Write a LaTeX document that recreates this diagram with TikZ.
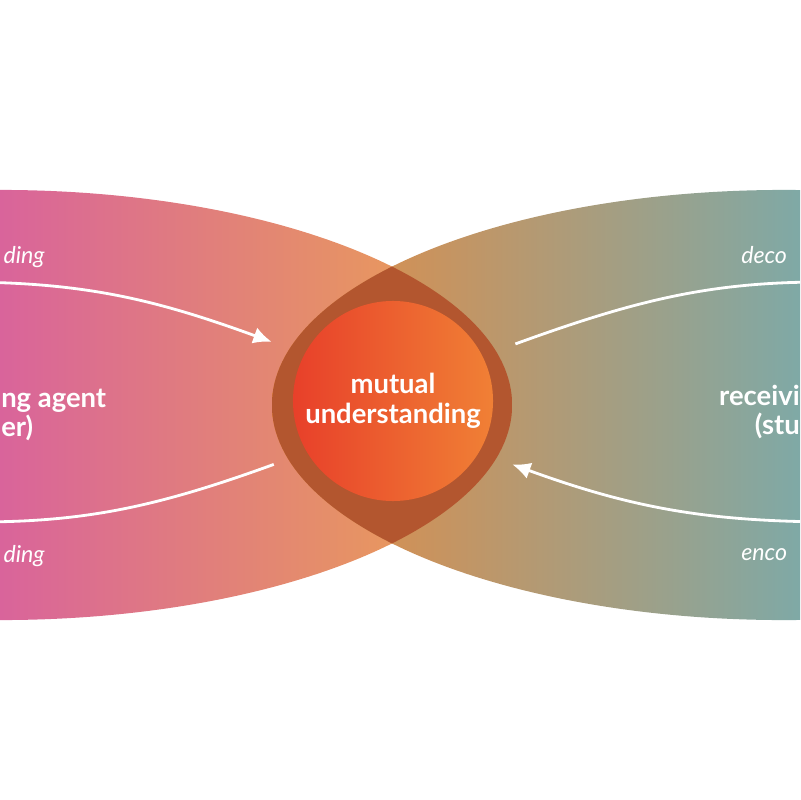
\documentclass[tikz,border=0pt]{standalone}
\usepackage{fontspec}
\setmainfont{Lato}
\usetikzlibrary{arrows.meta,positioning}

\definecolor{sendPink}{HTML}{D9649B}
\definecolor{sendSalmon}{HTML}{DF8474}
\definecolor{sendOrange}{HTML}{ECA64E}
\definecolor{recvOrange}{HTML}{E88A40}
\definecolor{recvTeal}{HTML}{7FA9A6}
\definecolor{lensBrown}{HTML}{B3562F}
\definecolor{mutRed}{HTML}{E8402A}
\definecolor{mutOrange}{HTML}{F08035}

\begin{document}
\begin{tikzpicture}[x=0.025cm, y=-0.025cm, >={Latex[length=13pt, width=12pt]},
agent/.style = {text=white, inner sep=0pt, font=\bfseries\fontsize{19.5}{21}\selectfont},
coding/.style = {text=white, inner sep=0pt, font=\itshape\fontsize{16.5}{19}\selectfont},
flow/.style = {draw=white, line width=2pt, ->}]
    \useasboundingbox (0,0) rectangle (800,800);
    \clip (0,0) rectangle (800,800);
    \begin{scope}
        \clip (0,405) ellipse [x radius=12.8cm, y radius=5.375cm];
        \shade[left color=sendPink, middle color=sendSalmon, right color=sendOrange] (0,180) rectangle (512,630);
    \end{scope}
    \begin{scope}
        \clip (784,405) ellipse [x radius=12.8cm, y radius=5.375cm];
        \shade[left color=recvOrange, right color=recvTeal] (272,180) rectangle (800,630);
        \clip (0,405) ellipse [x radius=12.8cm, y radius=5.375cm];
        \fill[lensBrown] (272,180) rectangle (512,630);
    \end{scope}
    \node [circle, minimum size=5cm, outer sep=0.875cm, left color=mutRed, right color=mutOrange,
           agent, align=center] (M) at (393,401) {mutual\\understanding};
    \node [agent, align=left, anchor=west]  (S) at (1,415) {ng agent\\er)};
    \node [agent, align=right, anchor=east] (R) at (800,412) {receivi\\(stu};
    \node [coding, anchor=base east] (SE) at (45,263) {ding};
    \node [coding, anchor=base east] (SD) at (45,562) {ding};
    \node [coding, anchor=base west] (RD) at (741,263) {deco};
    \node [coding, anchor=base west] (RE) at (741,560) {enco};
    \coordinate (sOut) at (-40,282);
    \coordinate (sIn)  at (-40,522);
    \coordinate (rIn)  at (840,282);
    \coordinate (rOut) at (840,522);
    \draw[flow] (sOut) to[out=0, in=160]   (M.154);
    \draw[flow] (M.25)  to[out=20, in=180] (rIn);
    \draw[flow] (rOut) to[out=180, in=-20] (M.332);
    \draw[flow] (M.208) to[out=200, in=0]  (sIn);
\end{tikzpicture}
\end{document}
